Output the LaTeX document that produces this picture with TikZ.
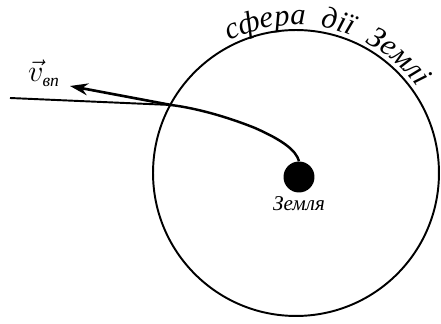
\documentclass[tikz,border=0pt]{standalone}
\usepackage{fontspec}
\setmainfont{Liberation Serif}
\usetikzlibrary{arrows.meta,positioning,decorations.text}
\tikzset{
  stroke/.style={line width=1.1pt,draw=black},
  vecarrow/.style={-{Stealth[length=3.6mm,width=2.4mm]},line width=1.5pt},
  hand/.style={font=\itshape\large,inner sep=1pt}
}
\begin{document}
\begin{tikzpicture}[x=0.02cm,y=-0.02cm]
  \useasboundingbox (0,0) rectangle (441,324);
  % sphere of influence
  \node[circle,stroke,minimum size=5.72cm,inner sep=0pt] (sphere) at (296,173) {};
  \path[decorate,decoration={text along path,text align=center,
      text={|\itshape\LARGE|сфера{ }{ }дії{ }{ }Землі}}]
    (296,173) ++(-126:148) arc[start angle=-126,end angle=-26,radius=148];
  % Earth
  \node[circle,fill=black,inner sep=0pt,minimum size=0.62cm] (earth) at (299,177) {};
  \node[hand,below=1pt of earth] (earthlabel) {Земля};
  % trajectory
  \coordinate (cross) at (171,105);
  \coordinate (far) at (10,98);
  \coordinate (tip) at (70,86);
  \draw[stroke,line width=1.4pt] (earth.north) .. controls (296,150) and (282,140) .. (255,128)
    .. controls (225,116) and (195,108) .. (cross);
  \draw[stroke] (cross) -- (far);
  \draw[vecarrow] (cross) -- (tip);
  \node[hand,font=\itshape\LARGE] (vlabel) at (44,73) {$\vec{v}_{\mbox{\normalsize\itshape вп}}$};
\end{tikzpicture}
\end{document}
